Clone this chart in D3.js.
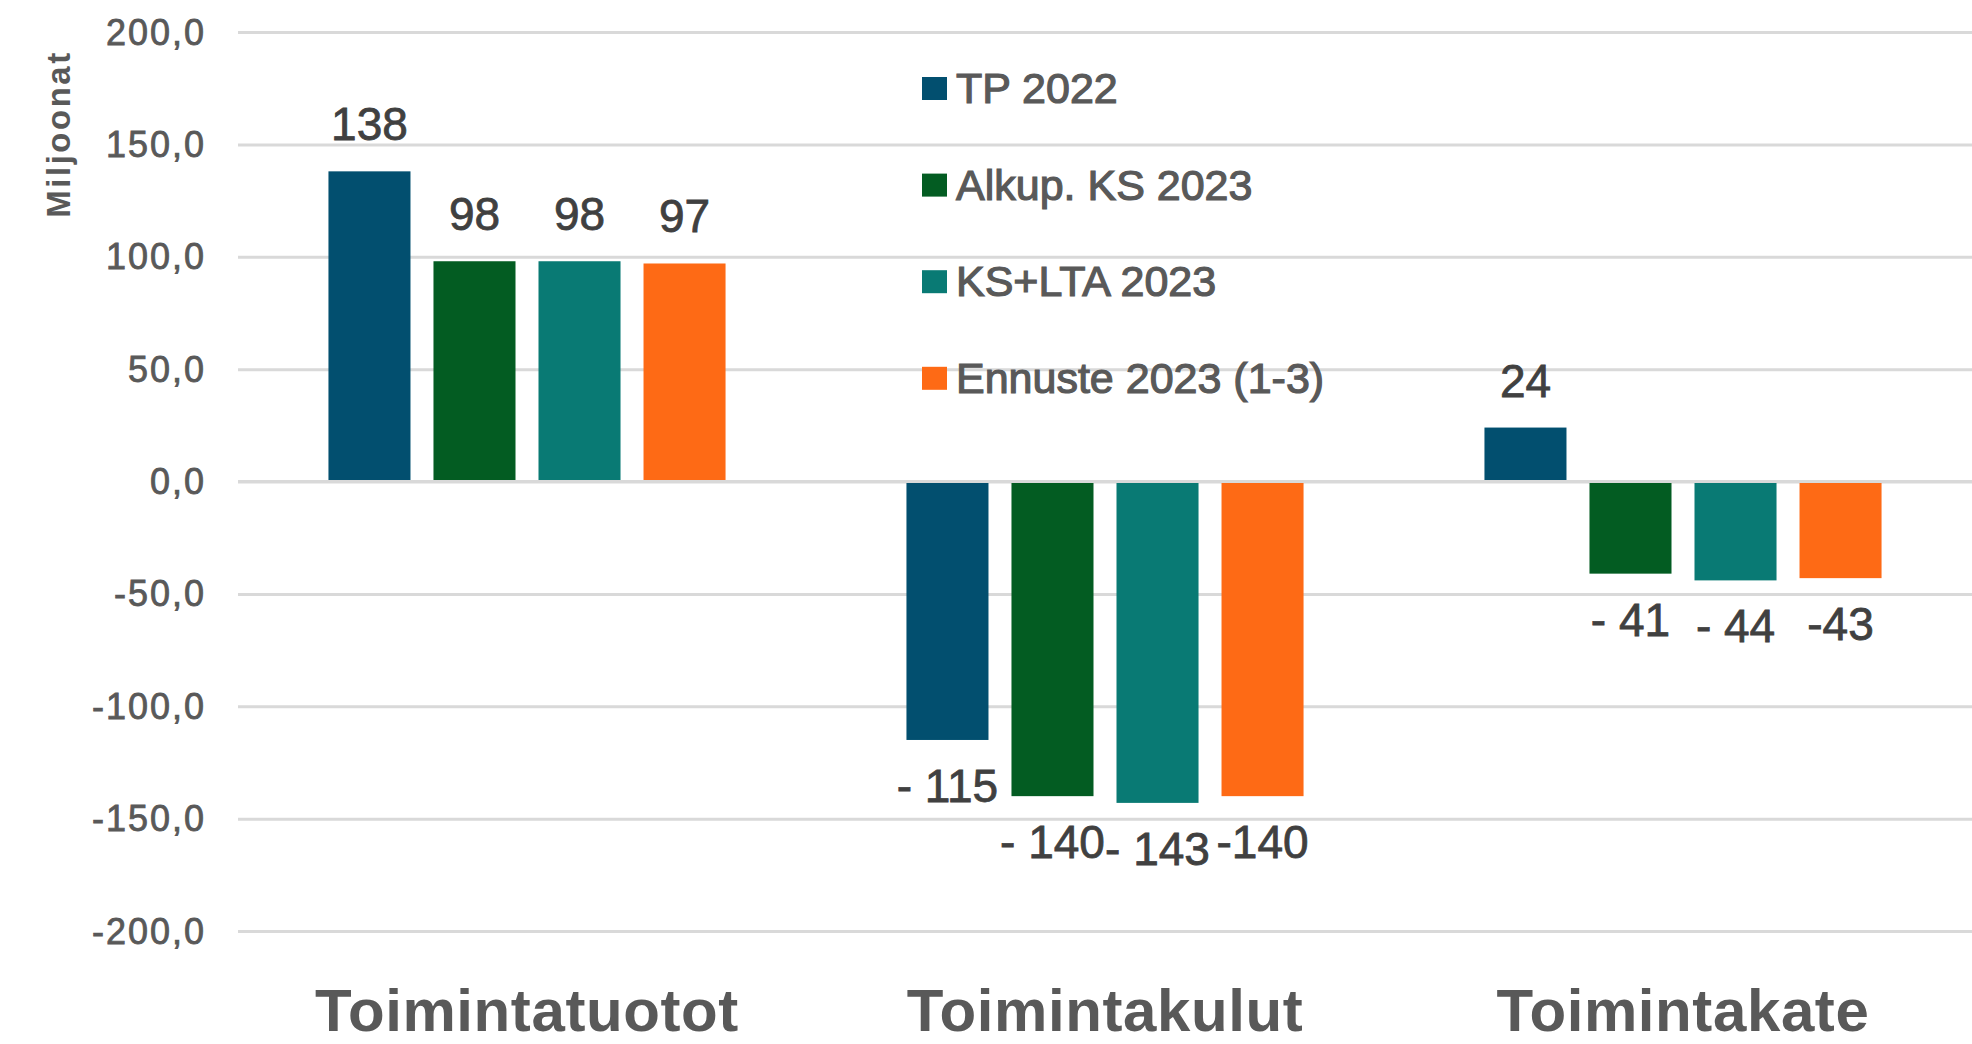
<!DOCTYPE html>
<html>
<head>
<meta charset="utf-8">
<script src="https://cdn.jsdelivr.net/npm/d3@7"></script>
<style>
  html, body { margin: 0; padding: 0; background: #fff; }
  svg { display: block; font-family: "Liberation Sans", Arial, sans-serif; }
</style>
</head>
<body>
<svg id="chart"></svg>
<script>
// data
const categories = ["Toimintatuotot", "Toimintakulut", "Toimintakate"];
const seriesNames = ["TP 2022", "Alkup. KS 2023", "KS+LTA 2023", "Ennuste 2023 (1-3)"];
const tp2022 = [138, -115, 24];
const alkupKs2023 = [98, -140, -41];
const ksLta2023 = [98, -143, -44];
const ennuste2023 = [97, -140, -43];
const yTicks = [-200, -150, -100, -50, 0, 50, 100, 150, 200];
const seriesColors = ["#024f6f", "#035c22", "#097a74", "#fe6a15"];
const yTitle = "Miljoonat";

const seriesValues = [tp2022, alkupKs2023, ksLta2023, ennuste2023];

const width = 1972;
const height = 1044;

const svg = d3.select("#chart")
    .attr("width", width)
    .attr("height", height);

//scales
const x0 = d3.scaleBand()
    .domain(categories)
    .range([238, 1972])
    .paddingInner(0.313)
    .paddingOuter(0.1565);

const x1 = d3.scaleBand()
    .domain(seriesNames)
    .range([0, x0.bandwidth()])
    .paddingInner(0.219);

const y = d3.scaleLinear()
    .domain([-200, 200])
    .range([931, 32]);

const fiLocale = d3.formatLocale({decimal: ",", thousands: " ", grouping: [3], currency: ["", " €"], minus: "-"});
const tickFmt = fiLocale.format(".1f");

//grid lines
const grid = svg.append("g")
    .attr("class", "grid")
    .attr("transform", "translate(238,0)")
    .call(d3.axisLeft(y).tickValues(yTicks).tickSize(-(width - 238)).tickFormat(""));
grid.select(".domain").remove();
grid.selectAll("line").attr("stroke", "#d9d9d9").attr("stroke-width", 3);

//y tick labels
svg.append("g")
    .selectAll("text")
    .data(yTicks)
    .join("text")
    .attr("x", 206)
    .attr("y", d => y(d))
    .attr("dy", "0.35em")
    .attr("text-anchor", "end")
    .attr("font-size", 36)
    .attr("letter-spacing", 2)
    .attr("fill", "#595959")
    .attr("stroke", "#595959")
    .attr("stroke-width", 0.8)
    .text(d => tickFmt(d));

//y title
svg.append("text")
    .attr("transform", "translate(70,134) rotate(-90)")
    .attr("text-anchor", "middle")
    .attr("font-size", 33)
    .attr("font-weight", "bold")
    .attr("letter-spacing", 2.5)
    .attr("fill", "#595959")
    .text(yTitle);

//bars
const rows = [];
categories.forEach((c, ci) => {
    seriesNames.forEach((s, si) => {
        rows.push({cat: c, series: s, si: si, value: seriesValues[si][ci]});
    });
});

svg.append("g")
    .selectAll("rect")
    .data(rows)
    .join("rect")
    .attr("x", d => x0(d.cat) + x1(d.series))
    .attr("width", x1.bandwidth())
    .attr("y", d => y(Math.max(0, d.value)))
    .attr("height", d => Math.abs(y(d.value) - y(0)))
    .attr("fill", d => seriesColors[d.si]);

//zero line over the bars
svg.append("line")
    .attr("x1", 238)
    .attr("x2", width)
    .attr("y1", y(0))
    .attr("y2", y(0))
    .attr("stroke", "#d9d9d9")
    .attr("stroke-width", 3);

//data labels
const labelText = d => {
    if (d.value >= 0) return String(d.value);
    return d.si < 3 ? "- " + Math.abs(d.value) : "-" + Math.abs(d.value);
};

svg.append("g")
    .selectAll("text")
    .data(rows)
    .join("text")
    .attr("x", d => x0(d.cat) + x1(d.series) + x1.bandwidth() / 2)
    .attr("y", d => d.value >= 0 ? y(d.value) - 31 : y(d.value) + 62)
    .attr("text-anchor", "middle")
    .attr("font-size", 46)
    .attr("fill", "#404040")
    .attr("stroke", "#404040")
    .attr("stroke-width", 0.8)
    .text(labelText);

//category labels
svg.append("g")
    .selectAll("text")
    .data(categories)
    .join("text")
    .attr("x", d => x0(d) + x0.bandwidth() / 2)
    .attr("y", 1031)
    .attr("text-anchor", "middle")
    .attr("font-size", 60)
    .attr("font-weight", "bold")
    .attr("letter-spacing", 0.6)
    .attr("fill", "#595959")
    .text(d => d);

//legend
const legend = svg.append("g")
    .selectAll("g")
    .data(seriesNames)
    .join("g")
    .attr("transform", (d, i) => `translate(922,${103 + i * 96.6})`);

legend.append("rect")
    .attr("x", 0)
    .attr("y", -26)
    .attr("width", 25)
    .attr("height", 23)
    .attr("fill", (d, i) => seriesColors[i]);

legend.append("text")
    .attr("x", 34)
    .attr("y", 0)
    .attr("font-size", 43)
    .attr("fill", "#595959")
    .attr("stroke", "#595959")
    .attr("stroke-width", 1.2)
    .text(d => d);
</script>
</body>
</html>
